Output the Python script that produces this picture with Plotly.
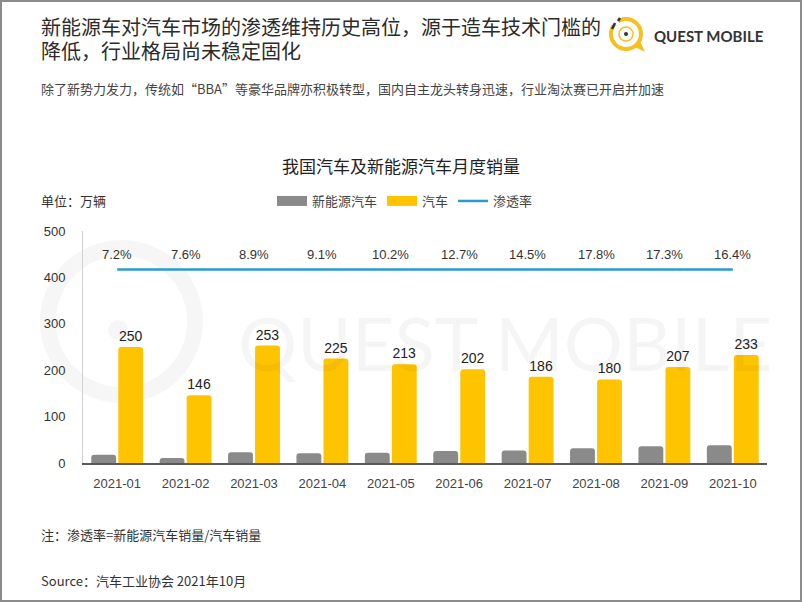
import plotly.graph_objects as go

# ---------------- data ----------------
months = ["2021-01", "2021-02", "2021-03", "2021-04", "2021-05",
          "2021-06", "2021-07", "2021-08", "2021-09", "2021-10"]
nev_sales = [18, 11, 23, 21, 22, 26, 27, 32, 36, 38]          # 新能源汽车 (万辆)
car_sales = [250, 146, 253, 225, 213, 202, 186, 180, 207, 233]  # 汽车 (万辆)
penetration = [7.2, 7.6, 8.9, 9.1, 10.2, 12.7, 14.5, 17.8, 17.3, 16.4]  # 渗透率 %
y_ticks = [0, 100, 200, 300, 400, 500]

# display level of the (flat) penetration line in the original chart
rate_line_level = 417

NEV_COLOR = "#8a8a8a"
CAR_COLOR = "#FFC400"
RATE_COLOR = "#2a9ad4"

# ---------------- geometry helpers ----------------
W, H = 802, 602
L, R, T, B = 83, 767, 231, 463


def px(x):
    return (x - L) / (R - L)


def py(y):
    return (B - y) / (B - T)


CJK = "Noto Sans CJK SC, Liberation Sans, sans-serif"
NUM = "Liberation Sans, Noto Sans CJK SC, sans-serif"

fig = go.Figure()

fig.add_trace(go.Bar(
    x=months, y=nev_sales, name="新能源汽车", showlegend=False,
    marker=dict(color=NEV_COLOR, cornerradius=3, line=dict(width=0)),
    hoverinfo="x+y",
))
fig.add_trace(go.Bar(
    x=months, y=car_sales, name="汽车", showlegend=False,
    marker=dict(color=CAR_COLOR, cornerradius=3, line=dict(width=0)),
    text=car_sales, texttemplate="%{text}", textposition="outside",
    textfont=dict(family=NUM, size=14, color="#222222"),
    cliponaxis=False,
))
fig.add_trace(go.Scatter(
    x=months, y=[rate_line_level] * len(months), name="渗透率", showlegend=False,
    mode="lines",
    line=dict(color=RATE_COLOR, width=2.5),
    hovertext=[f"{v:.1f}%" for v in penetration], hoverinfo="text",
))

# legend entries (wide rectangular swatches like the original)
fig.add_trace(go.Scatter(x=[None], y=[None], mode="lines", name="新能源汽车",
                         line=dict(color=NEV_COLOR, width=10)))
fig.add_trace(go.Scatter(x=[None], y=[None], mode="lines", name="汽车",
                         line=dict(color=CAR_COLOR, width=10)))
fig.add_trace(go.Scatter(x=[None], y=[None], mode="lines", name="渗透率",
                         line=dict(color=RATE_COLOR, width=2.5)))

shapes = []
annotations = []

# penetration labels above the line
for m, v in zip(months, penetration):
    annotations.append(dict(x=m, y=rate_line_level, xref="x", yref="y",
                            text=f"{v:.1f}%", showarrow=False, yshift=15,
                            font=dict(family=NUM, size=13, color="#333333"),
                            xanchor="center", yanchor="middle"))

# outer frame
shapes.append(dict(type="rect", xref="paper", yref="paper",
                   x0=px(1), x1=px(W - 1), y0=py(H - 1), y1=py(1),
                   line=dict(color="#8c8c8c", width=2), fillcolor="rgba(0,0,0,0)",
                   layer="above"))

# faint watermark ring (logo) at left
shapes.append(dict(type="circle", xref="paper", yref="paper",
                   x0=px(48), x1=px(195), y0=py(395), y1=py(248),
                   line=dict(color="rgba(0,0,0,0.035)", width=16), layer="below"))
shapes.append(dict(type="circle", xref="paper", yref="paper",
                   x0=px(108), x1=px(128), y0=py(340), y1=py(320),
                   line=dict(width=0), fillcolor="rgba(0,0,0,0.035)", layer="below"))

# watermark text
annotations.append(dict(xref="paper", yref="paper", x=px(505), y=py(342),
                        text="QUEST MOBILE", showarrow=False,
                        font=dict(family="Lato, Liberation Sans, sans-serif", size=74,
                                  color="rgba(0,0,0,0.04)"),
                        xanchor="center", yanchor="middle"))

# logo: ring + dot + ticks + tail
cx, cy, r = 626, 34, 15
shapes.append(dict(type="circle", xref="paper", yref="paper",
                   x0=px(cx - r), x1=px(cx + r), y0=py(cy + r), y1=py(cy - r),
                   line=dict(color="#F4C21E", width=4)))
shapes.append(dict(type="circle", xref="paper", yref="paper",
                   x0=px(cx - 7), x1=px(cx + 7), y0=py(cy + 7), y1=py(cy - 7),
                   line=dict(color="#F4C21E", width=1.5)))
shapes.append(dict(type="circle", xref="paper", yref="paper",
                   x0=px(cx - 2), x1=px(cx + 2), y0=py(cy + 2), y1=py(cy - 2),
                   line=dict(width=0), fillcolor="#333333"))
shapes.append(dict(type="path", xref="paper", yref="paper",
                   path=f"M {px(cx + 9)} {py(cy + 13)} L {px(cx + 19)} {py(cy + 18)} L {px(cx + 14)} {py(cy + 7)} Z",
                   line=dict(width=0), fillcolor="#F4C21E"))
shapes.append(dict(type="rect", xref="paper", yref="paper",
                   x0=px(cx - 17), x1=px(cx - 7), y0=py(cy - 9), y1=py(cy - 20),
                   line=dict(width=0), fillcolor="#ffffff"))
shapes.append(dict(type="line", xref="paper", yref="paper",
                   x0=px(cx - 14), x1=px(cx - 11), y0=py(cy - 5), y1=py(cy - 11),
                   line=dict(color="#333333", width=2.5)))
shapes.append(dict(type="line", xref="paper", yref="paper",
                   x0=px(cx - 8), x1=px(cx - 6), y0=py(cy - 13), y1=py(cy - 16),
                   line=dict(color="#333333", width=2.5)))
annotations.append(dict(xref="paper", yref="paper", x=px(652), y=py(36),
                        text="<b>QUEST MOBILE</b>", showarrow=False,
                        font=dict(family="Lato, Liberation Sans, sans-serif", size=15,
                                  color="#333333"),
                        xanchor="left", yanchor="middle"))

# header title lines
annotations.append(dict(xref="paper", yref="paper", x=px(39), y=py(26),
                        text="新能源车对汽车市场的渗透维持历史高位，源于造车技术门槛的",
                        showarrow=False, font=dict(family=CJK, size=20, color="#2b2b2b"),
                        xanchor="left", yanchor="middle"))
annotations.append(dict(xref="paper", yref="paper", x=px(39), y=py(50),
                        text="降低，行业格局尚未稳定固化",
                        showarrow=False, font=dict(family=CJK, size=20, color="#2b2b2b"),
                        xanchor="left", yanchor="middle"))
annotations.append(dict(xref="paper", yref="paper", x=px(39), y=py(88),
                        text="除了新势力发力，传统如“BBA”等豪华品牌亦积极转型，国内自主龙头转身迅速，行业淘汰赛已开启并加速",
                        showarrow=False, font=dict(family=CJK, size=13, color="#444444"),
                        xanchor="left", yanchor="middle"))

# unit label
annotations.append(dict(xref="paper", yref="paper", x=px(39), y=py(200),
                        text="单位：万辆", showarrow=False,
                        font=dict(family=CJK, size=13, color="#333333"),
                        xanchor="left", yanchor="middle"))

# footnotes
annotations.append(dict(xref="paper", yref="paper", x=px(39), y=py(534),
                        text="注：渗透率=新能源汽车销量/汽车销量", showarrow=False,
                        font=dict(family=CJK, size=13, color="#333333"),
                        xanchor="left", yanchor="middle"))
annotations.append(dict(xref="paper", yref="paper", x=px(39), y=py(580),
                        text="Source：汽车工业协会 2021年10月", showarrow=False,
                        font=dict(family=CJK, size=13, color="#333333"),
                        xanchor="left", yanchor="middle"))

fig.update_layout(
    width=W, height=H,
    margin=dict(l=L, r=W - R, t=T, b=H - B, pad=0),
    paper_bgcolor="white", plot_bgcolor="rgba(0,0,0,0)",
    barmode="group", bargap=0.21, bargroupgap=0.08,
    title=dict(text="我国汽车及新能源汽车月度销量", x=0.5, xref="container",
               y=1 - 167 / H, yref="container", xanchor="center", yanchor="middle",
               font=dict(family=CJK, size=17, color="#222222")),
    legend=dict(orientation="h", x=px(272), y=py(201), xanchor="left", yanchor="middle",
                font=dict(family=CJK, size=13, color="#444444"),
                itemwidth=30, bgcolor="rgba(0,0,0,0)", traceorder="normal"),
    xaxis=dict(type="category", showgrid=False, showline=True, linecolor="#595959",
               linewidth=1.5, ticks="", tickfont=dict(family=NUM, size=13, color="#444444"),
               ticklabelstandoff=8, zeroline=False),
    yaxis=dict(range=[0, 500], tickvals=y_ticks, showgrid=False, zeroline=False,
               showline=True, linecolor="#d0d0d0", linewidth=1, ticks="",
               tickfont=dict(family=NUM, size=13, color="#333333"),
               ticklabelstandoff=14),
    shapes=shapes, annotations=annotations,
    showlegend=True,
)

fig.write_html("out.html",
               config={"displayModeBar": False},
               post_script="document.body.style.margin='0';document.body.style.overflow='hidden';")
